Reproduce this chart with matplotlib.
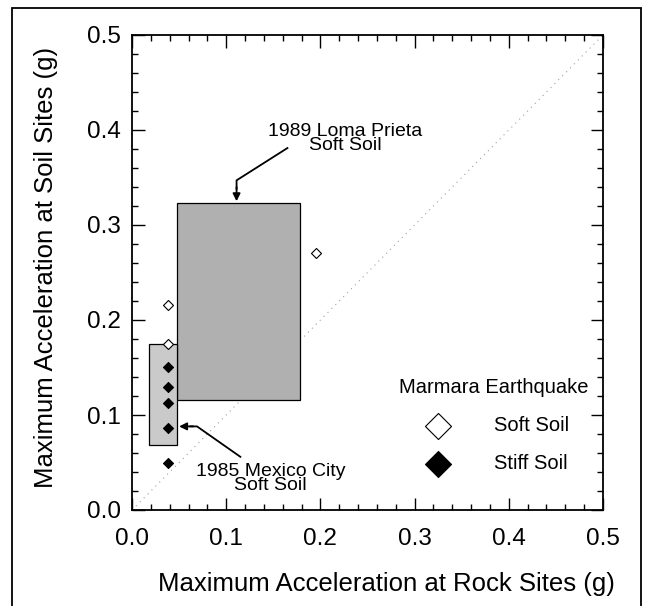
import matplotlib
matplotlib.use("Agg")
import matplotlib.pyplot as plt
from matplotlib.patches import Rectangle
from matplotlib.ticker import MultipleLocator

plt.rcParams["font.family"] = ["Liberation Sans", "DejaVu Sans"]

# Marmara earthquake data (rock vs soil peak acceleration, g)
soft_x = [0.038, 0.038, 0.195]
soft_y = [0.216, 0.175, 0.271]
stiff_x = [0.038, 0.038, 0.038, 0.038, 0.038]
stiff_y = [0.151, 0.129, 0.113, 0.086, 0.050]

# ranges from earlier earthquakes: (x0, x1, y0, y1)
loma_box = (0.048, 0.178, 0.116, 0.323)
mexico_box = (0.018, 0.048, 0.068, 0.175)

fig = plt.figure(figsize=(6.45, 6.06), dpi=100)
ax = fig.add_axes([132 / 645, 96 / 606, 471 / 645, 475 / 606])

# 1:1 line
ax.plot([0, 0.5], [0, 0.5], color="#a0a0a0", lw=0.8, ls=(0, (1, 4)), zorder=1)

for (x0, x1, y0, y1), fc in [(loma_box, "#b0b0b0"), (mexico_box, "#cacaca")]:
    ax.add_patch(Rectangle((x0, y0), x1 - x0, y1 - y0, facecolor=fc,
                           edgecolor="black", lw=0.9, zorder=2))

ax.scatter(soft_x, soft_y, marker="D", s=26, facecolor="white",
           edgecolor="black", lw=0.8, zorder=3, label="Soft Soil")
ax.scatter(stiff_x, stiff_y, marker="D", s=26, facecolor="black",
           edgecolor="black", lw=0.8, zorder=3, label="Stiff Soil")

arrow = dict(arrowstyle="-|>", color="black", lw=1.3, mutation_scale=11,
             shrinkA=0, shrinkB=0)

ax.text(0.226, 0.391, "1989 Loma Prieta\nSoft Soil", ha="center", va="center",
        fontsize=14, linespacing=0.8)
ax.plot([0.165, 0.111, 0.111], [0.381, 0.347, 0.338], color="black", lw=1.3)
ax.annotate("", xy=(0.111, 0.325), xytext=(0.111, 0.340), arrowprops=arrow)

ax.text(0.147, 0.033, "1985 Mexico City\nSoft Soil", ha="center", va="center",
        fontsize=14, linespacing=0.8)
ax.plot([0.115, 0.069, 0.062], [0.056, 0.088, 0.088], color="black", lw=1.3)
ax.annotate("", xy=(0.050, 0.088), xytext=(0.065, 0.088), arrowprops=arrow)

leg = ax.legend(title="Marmara Earthquake", loc="upper left",
                bbox_to_anchor=(0.283, 0.139), bbox_transform=ax.transData,
                frameon=False, markerscale=2.6, handletextpad=1.8,
                labelspacing=0.95, fontsize=14.5, title_fontsize=14.5,
                borderpad=0, borderaxespad=0)

ax.set_xlim(0, 0.5)
ax.set_ylim(0, 0.5)
ax.xaxis.set_major_locator(MultipleLocator(0.1))
ax.yaxis.set_major_locator(MultipleLocator(0.1))
ax.xaxis.set_minor_locator(MultipleLocator(0.02))
ax.yaxis.set_minor_locator(MultipleLocator(0.02))
ax.tick_params(which="both", direction="in", top=True, right=True, width=1.0)
ax.tick_params(which="major", length=9, labelsize=17.5)
ax.tick_params(which="minor", length=4.5)
ax.tick_params(axis="x", pad=13)
ax.tick_params(axis="y", pad=8)
ax.xaxis.set_major_formatter(lambda v, p: f"{v:.1f}")
ax.yaxis.set_major_formatter(lambda v, p: f"{v:.1f}")
for s in ax.spines.values():
    s.set_linewidth(1.3)

ax.set_xlabel("Maximum Acceleration at Rock Sites (g)", fontsize=18.5)
ax.set_ylabel("Maximum Acceleration at Soil Sites (g)", fontsize=18.5)
ax.xaxis.set_label_coords(0.54, -0.13)
ax.yaxis.set_label_coords(-0.157, 0.51)

# frame around the whole figure
fig.patches.append(Rectangle((12 / 645, -0.02), 629 / 645, 598 / 606 + 0.02,
                             transform=fig.transFigure, fill=False,
                             edgecolor="black", lw=1.3))

fig.savefig("out.png", dpi=100)
